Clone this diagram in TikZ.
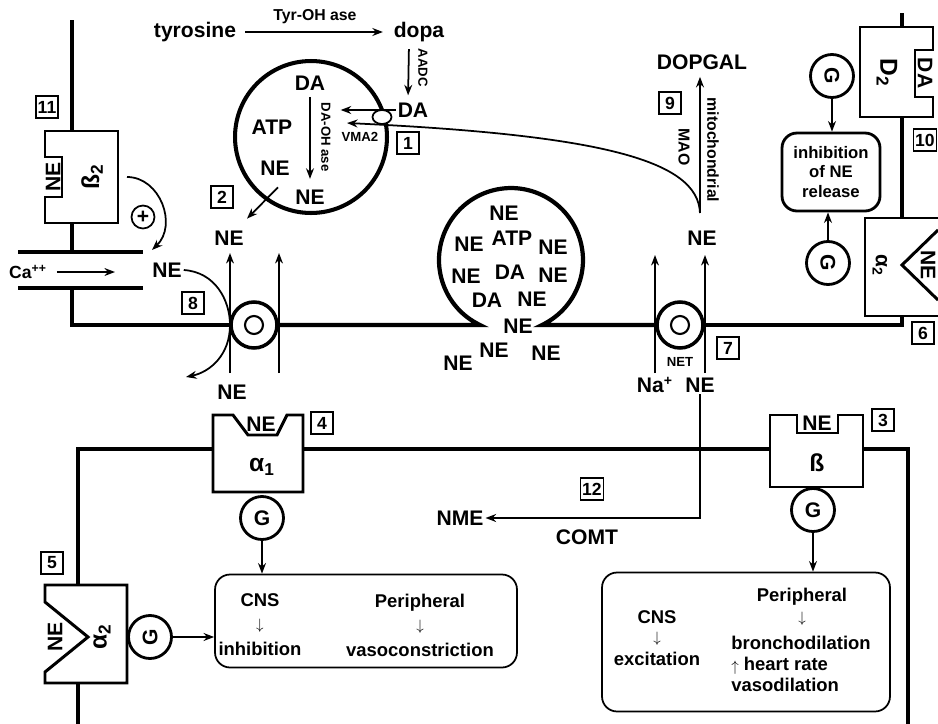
\documentclass[tikz,border=0pt]{standalone}
\usepackage{fontspec}
\usepackage{graphicx}
\setmainfont{Liberation Sans}
\usetikzlibrary{shapes.geometric,positioning,arrows.meta,calc}

\newcommand{\dnarr}{\raisebox{0.15ex}{\scalebox{0.78}{$\downarrow$}}}
\newcommand{\uparr}{\raisebox{-0.1ex}{\scalebox{0.78}{$\uparrow$}}}

\begin{document}
\begin{tikzpicture}[
        x=0.02cm, y=0.02cm,
        lbl/.style={font=\bfseries\fontsize{12}{13}\selectfont, inner sep=1pt},
        sml/.style={font=\bfseries\fontsize{9}{10}\selectfont, inner sep=1pt},
        tny/.style={font=\bfseries\fontsize{7.5}{8}\selectfont, inner sep=1pt},
        grk/.style={font=\bfseries\fontsize{14}{14}\selectfont, inner sep=1pt},
        eff/.style={font=\bfseries\fontsize{10.5}{14}\selectfont, align=center, inner sep=1pt},
        numbox/.style={draw, line width=0.9pt, font=\bfseries\fontsize{10}{10}\selectfont, minimum size=0.43cm, inner sep=1pt},
        gprot/.style={circle, draw, line width=1.6pt, minimum size=0.86cm, inner sep=0pt, font=\bfseries\fontsize{12}{12}\selectfont},
        carrier/.style={circle, draw, line width=2pt, minimum size=0.92cm, inner sep=0pt},
        membrane/.style={line width=2.4pt},
        rcpt/.style={line width=1.7pt, line join=miter},
        flow/.style={line width=1pt, -{Stealth[length=6pt, width=4.5pt]}},
        effbox/.style={draw, line width=1pt, rounded corners=0.3cm}
    ]
        \useasboundingbox (0,0) rectangle (938,-724);

        % Synthesis of dopamine
        \node[lbl] (tyr) at (195,-32) {tyrosine};
        \node[lbl] (dopa) at (419,-32) {dopa};
        \draw[flow, shorten <=4pt, shorten >=5pt] (tyr.east) -- (dopa.west)
            node[midway, above=3pt, sml] (tyroh) {Tyr-OH ase};
        \node[lbl] (daV) at (413,-110) {DA};
        \draw[flow, shorten <=3pt, shorten >=3pt] ([xshift=-0.2cm]dopa.south) -- ([xshift=-0.1cm]daV.north);
        \node[tny, rotate=-90] (aadc) at (423,-68) {AADC};

        % Storage vesicle
        \node[circle, draw, line width=2.3pt, minimum size=3.04cm] (sv) at (311,-137) {};
        \node[lbl] (daSv) at (310,-83) {DA};
        \node[lbl] (atpSv) at (272,-127) {ATP};
        \node[lbl] (neSv) at (275,-168) {NE};
        \node[lbl] (neSvB) at (310,-197) {NE};
        \draw[flow, shorten <=2.5pt, shorten >=5pt] (daSv.south) -- (neSvB.north);
        \node[tny, rotate=-90] (dboh) at (326,-137) {DA-OH ase};
        \draw[flow] (daV.west) -- ++(-55,0);
        \node[ellipse, draw, fill=white, line width=1pt, minimum width=0.38cm, minimum height=0.28cm, inner sep=0pt] (vmat) at (382,-117) {};
        \node[tny] (vma) at (360,-137) {VMA2};
        \node[numbox] (n1) at (408,-143) {1};

        % Release into the cleft
        \node[numbox] (n2) at (222,-197) {2};
        \node[lbl] (neUpL) at (229,-238) {NE};
        \draw[flow] ($(neSv.south)+(3,-10)$) -- ($(neUpL.north)+(18,10)$);

        % Presynaptic membrane, left part
        \node[carrier] (tpL) at (254,-325) {};
        \node[circle, draw, line width=1.2pt, minimum size=0.36cm] (tpLin) at (tpL) {};
        \draw[membrane] (72,-20) -- (72,-131);
        \draw[rcpt] (45,-131) -- (118,-131) -- (118,-223) -- (45,-223) -- (45,-197)
            -- (62,-197) -- (62,-157) -- (45,-157) -- cycle;
        \node[lbl, rotate=90] (neB2) at (53,-177) {NE};
        \node[grk, rotate=90] (b2) at (92,-177) {ß\textsubscript{2}};
        \node[numbox] (n11) at (47,-107) {11};
        \draw[membrane] (72,-223) -- (72,-252);
        \draw[membrane] (18,-252) -- (143,-252);
        \draw[membrane] (18,-288) -- (143,-288);
        \draw[membrane] (72,-288) -- (72,-325) -- (tpL.west);
        \node[circle, draw, line width=1pt, minimum size=0.46cm, inner sep=0pt,
            font=\bfseries\fontsize{12}{12}\selectfont] (plus) at (143,-217) {+};
        \draw[flow] (127,-177) .. controls (160,-177) and (178,-225) .. (152,-250);
        \node[font=\bfseries\fontsize{10}{10}\selectfont, inner sep=1pt] (ca) at (28,-272) {Ca\textsuperscript{++}};
        \draw[flow] ($(ca.east)+(8,0)$) -- (115,-272);
        \node[lbl] (neRel) at (167,-270) {NE};
        \draw[flow] (neRel.east) .. controls (215,-272) and (230,-300) .. (230,-325)
            .. controls (230,-355) and (210,-372) .. (186,-377);
        \node[numbox] (n8) at (193,-303) {8};
        \draw[flow, line width=0.9pt] (230,-373) -- (230,-253);
        \draw[flow, line width=0.9pt] (279,-373) -- (279,-253);
        \node[lbl] (neDnL) at (232,-392) {NE};

        % Exocytosis
        \node[carrier] (tpR) at (680,-325) {};
        \node[circle, draw, line width=1.2pt, minimum size=0.36cm] (tpRin) at (tpR) {};
        \draw[membrane] (tpL.east) -- (480,-325) arc[start angle=244.5, end angle=-64.5, radius=1.44cm]
            -- (tpR.west);
        \node[lbl] (ves1) at (504,-213) {NE};
        \node[lbl] (ves2) at (469,-244) {NE};
        \node[lbl] (ves3) at (512,-238) {ATP};
        \node[lbl] (ves4) at (553,-247) {NE};
        \node[lbl] (ves5) at (466,-276) {NE};
        \node[lbl] (ves6) at (510,-272) {DA};
        \node[lbl] (ves7) at (553,-275) {NE};
        \node[lbl] (ves8) at (487,-300) {DA};
        \node[lbl] (ves9) at (532,-299) {NE};
        \node[lbl] (ves10) at (518,-326) {NE};
        \node[lbl] (ves11) at (494,-350) {NE};
        \node[lbl] (ves12) at (458,-363) {NE};
        \node[lbl] (ves13) at (546,-353) {NE};

        % Reuptake and metabolism
        \draw[flow, line width=0.9pt] (655,-373) -- (655,-255);
        \draw[flow, line width=0.9pt] (705,-373) -- (705,-255);
        \node[lbl] (neUpR) at (702,-238) {NE};
        \node[tny] (net) at (680,-362) {NET};
        \node[lbl] (naIn) at (655,-385) {Na\textsuperscript{+}};
        \node[lbl] (neIn) at (700,-385) {NE};
        \node[numbox] (n7) at (728,-348) {7};
        \coordinate (fork) at (700,-213);
        \node[lbl] (dopgal) at (702,-62) {DOPGAL};
        \draw[flow, shorten >=3pt] (fork) -- (dopgal.south -| fork);
        \draw[flow] (fork) .. controls (698,-160) and (600,-135) .. (347,-123);
        \node[sml, rotate=-90] (mito) at (713,-150) {mitochondrial};
        \node[sml, rotate=-90] (mao) at (684,-147) {MAO};
        \node[numbox] (n9) at (670,-103) {9};

        % Presynaptic membrane, right part
        \draw[membrane] (tpR.east) -- (902,-325) -- (902,-316);
        \draw[rcpt] (938,-218) -- (865,-218) -- (865,-316) -- (938,-316);
        \draw[rcpt] (938,-230) -- (902,-265) -- (938,-300);
        \node[lbl, rotate=-90] (neA2p) at (928,-265) {NE};
        \node[sml, rotate=-90] (a2p) at (880,-265) {\fontsize{12}{12}\selectfont α\textsubscript{2}};
        \node[numbox] (n6) at (923,-333) {6};
        \draw[membrane] (902,-13) -- (902,-27);
        \draw[rcpt] (860,-27) -- (933,-27) -- (933,-50) -- (915,-50) -- (915,-97) -- (933,-97)
            -- (933,-117) -- (860,-117) -- cycle;
        \node[lbl, rotate=-90] (daD2) at (925,-73) {DA};
        \node[grk, rotate=-90] (d2) at (887,-73) {D\textsubscript{2}};
        \draw[membrane] (902,-117) -- (902,-218);
        \node[numbox] (n10) at (925,-140) {10};
        \node[gprot, rotate=-90] (gD2) at (832,-76) {G};
        \node[gprot, rotate=-90] (gA2p) at (828,-263) {G};
        \node[draw, line width=1.6pt, rounded corners=0.3cm, minimum width=1.96cm, minimum height=1.56cm,
            align=center, font=\bfseries\fontsize{9.5}{11}\selectfont] (inhib) at (831,-172) {inhibition\\of NE\\release};
        \draw[flow] (gD2.east) -- (gD2.east |- inhib.north);
        \draw[flow] (gA2p.west) -- (gA2p.west |- inhib.south);

        % Postsynaptic membrane
        \draw[membrane] (78,-585) -- (78,-449) -- (213,-449);
        \draw[rcpt] (213,-415) -- (233,-415) -- (248,-435) -- (277,-435) -- (287,-415) -- (303,-415)
            -- (303,-492) -- (213,-492) -- cycle;
        \node[lbl] (neA1) at (261,-424) {NE};
        \node[grk] (a1) at (262,-467) {α\textsubscript{1}};
        \node[numbox] (n4) at (322,-423) {4};
        \draw[membrane] (303,-449) -- (770,-449);
        \draw[rcpt] (770,-415) -- (797,-415) -- (797,-433) -- (838,-433) -- (838,-415) -- (863,-415)
            -- (863,-487) -- (770,-487) -- cycle;
        \node[lbl] (neB) at (817,-423) {NE};
        \node[grk] (bt) at (817,-463) {ß};
        \node[numbox] (n3) at (883,-420) {3};
        \draw[membrane] (863,-449) -- (908,-449) -- (908,-724);
        \draw[rcpt] (45,-585) -- (127,-585) -- (127,-683) -- (45,-683) -- (45,-672) -- (88,-637)
            -- (45,-602) -- cycle;
        \node[lbl, rotate=90] (neA2) at (55,-637) {NE};
        \node[grk, rotate=90] (a2) at (102,-637) {α\textsubscript{2}};
        \node[numbox] (n5) at (52,-563) {5};
        \draw[membrane] (78,-683) -- (78,-724);

        % Postsynaptic effects
        \node[gprot] (gA1) at (262,-518) {G};
        \node[gprot, rotate=90] (gA2) at (150,-637) {G};
        \node[effbox, minimum width=6.04cm, minimum height=1.86cm] (effA) at (366,-621) {};
        \node[eff] (cnsA) at (260,-625) {CNS\\\dnarr\\inhibition};
        \node[eff] (periA) at (420,-625) {Peripheral\\\dnarr\\vasoconstriction};
        \draw[flow] (gA1.south) -- (gA1.south |- effA.north);
        \draw[flow] (gA2.south) -- (gA2.south -| effA.west);
        \node[gprot] (gB) at (813,-510) {G};
        \node[effbox, minimum width=5.76cm, minimum height=2.78cm] (effB) at (746,-642) {};
        \node[eff, font=\bfseries\fontsize{10.5}{12}\selectfont] (cnsB) at (657,-638) {CNS\\\dnarr\\excitation};
        \node[eff, font=\bfseries\fontsize{10.5}{12.5}\selectfont] (periB) at (802,-607) {Peripheral\\\dnarr};
        \node[eff, align=left, font=\bfseries\fontsize{10.5}{11.8}\selectfont] (periC) at (801,-664)
            {bronchodilation\\\uparr\ heart rate\\vasodilation};
        \draw[flow] (gB.south) -- (gB.south |- effB.north);

        % Extraneuronal metabolism
        \node[lbl] (nme) at (460,-518) {NME};
        \draw[flow, line width=1.3pt] (neIn.south) -- (neIn.south |- nme) -- (nme.east);
        \node[lbl] (comt) at (587,-537) {COMT};
        \node[numbox] (n12) at (592,-489) {12};
\end{tikzpicture}
\end{document}
